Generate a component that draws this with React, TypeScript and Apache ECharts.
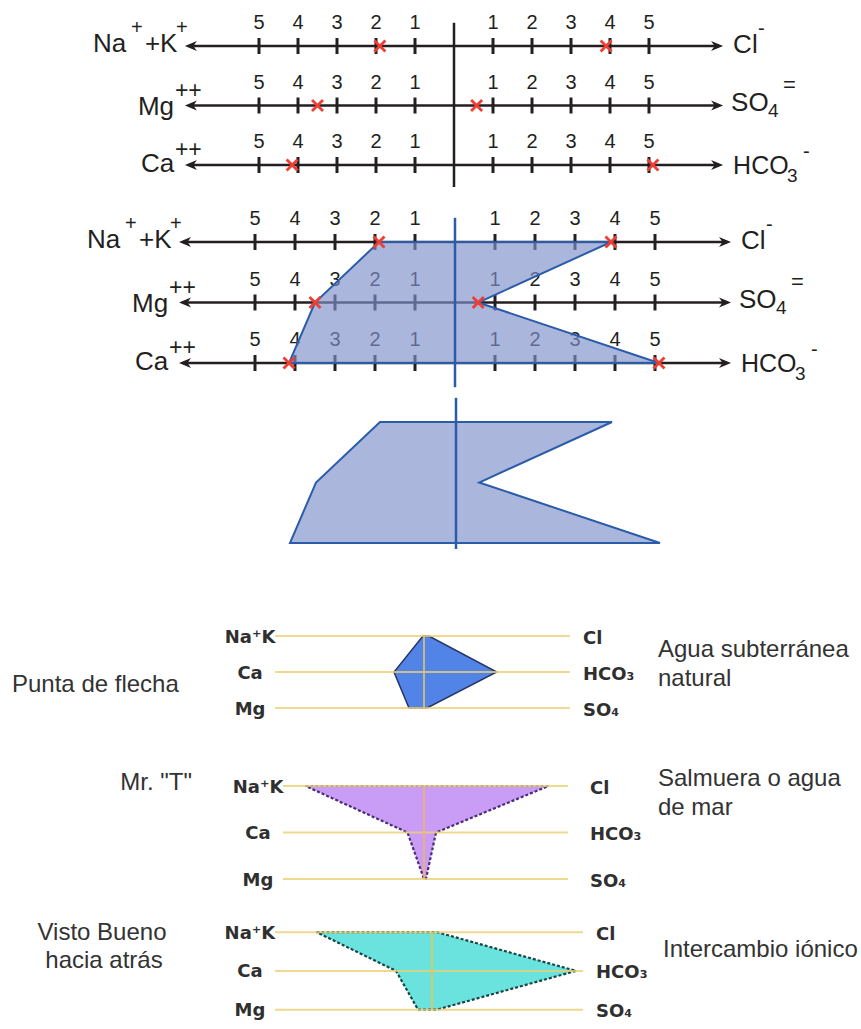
import React, { useEffect, useRef } from "react";
import * as echarts from "echarts";

// ---------------- data ----------------
const ionRows = [0, 1, 2];
// top diagrams (meq/L): left = cations (Na+K, Mg, Ca), right = anions (Cl, SO4, HCO3)
const cationValues = [1.9, 3.5, 4.15];
const anionValues = [3.9, 0.58, 5.1];
const tickValues = [1, 2, 3, 4, 5];
const tickLabels = ["1", "2", "3", "4", "5"];

// bottom Stiff patterns: rows Na+K / Ca / Mg (left) and Cl / HCO3 / SO4 (right)
const stiffCationLabels = ["Na⁺K", "Ca", "Mg"];
const stiffAnionLabels = ["Cl", "HCO₃", "SO₄"];
const arrowheadCations = [0.07, 2.0, 1.0];
const arrowheadAnions = [0.33, 4.85, 0.2];
const mrTCations = [7.9, 1.1, 0.0];
const mrTAnions = [8.3, 0.8, 0.13];
const checkCations = [7.7, 2.4, 0.93];
const checkAnions = [0.33, 9.6, 0.33];

const patternNames = [["Punta de flecha"], ['Mr. "T"'], ["Visto Bueno", "hacia atrás"]];
const waterTypes = [["Agua subterránea", "natural"], ["Salmuera o agua", "de mar"], ["Intercambio iónico"]];

// ---------------- styling ----------------
const FONT = '"Liberation Sans", Arial, sans-serif';
const BOLD_FONT = '"DejaVu Sans", Verdana, sans-serif';
const INK = "#231f20";
const RED = "#ee3f35";
const BLUE = "#2b5ca9";
const ARROW = 6.9;

type Piece = [string, number, number, number];
const leftIonPieces: Piece[][] = [
  [["Na", -92, -3, 26], ["+", -54, -19, 20], ["+K", -40, -3, 26], ["+", -9, -19, 20]],
  [["Mg", -47, 0, 26], ["++", -10, -16, 23]],
  [["Ca", -44, -2, 26], ["++", -10, -16, 23]],
];
const rightIonPieces: Piece[][] = [
  [["Cl", 10, -2, 26], ["-", 35, -18, 20]],
  [["SO", 8, -4, 26], ["4", 45, 5, 19], ["=", 60, -21, 22]],
  [["HCO", 10, 0, 25], ["3", 64, 10, 19], ["-", 80, -14, 20]],
];

const topGrids = [
  { left: 181, top: 16.25, width: 546, height: 178.5 },
  { left: 175, top: 211.75, width: 560, height: 181.5 },
  { left: 176, top: 391.75, width: 560, height: 181.5 },
];
const stiffGrids = [
  { left: 259, top: 618, width: 330, height: 108 },
  { left: 259, top: 762.75, width: 330, height: 139.5 },
  { left: 267, top: 912.75, width: 330, height: 121.5 },
];

function txt(text: string, x: number, y: number, size: number, o: any = {}) {
  return {
    type: "text",
    x,
    y,
    style: {
      text,
      fill: o.fill || INK,
      fontSize: size,
      fontFamily: o.family || FONT,
      fontWeight: o.weight || "normal",
      align: o.align || "left",
      verticalAlign: "middle",
    },
  };
}

const axisRender = (params: any, api: any) => {
  const r = api.value(1);
  const [lx, y] = api.coord([-ARROW, r]);
  const [rx] = api.coord([ARROW, r]);
  const ch: any[] = [];
  ch.push({ type: "line", shape: { x1: lx + 4, y1: y, x2: rx - 4, y2: y }, style: { stroke: INK, lineWidth: 2.4 } });
  ch.push({ type: "polygon", shape: { points: [[lx, y], [lx + 12, y - 5], [lx + 8.5, y], [lx + 12, y + 5]] }, style: { fill: INK } });
  ch.push({ type: "polygon", shape: { points: [[rx, y], [rx - 12, y - 5], [rx - 8.5, y], [rx - 12, y + 5]] }, style: { fill: INK } });
  tickValues.forEach((v, k) => {
    [-1, 1].forEach((s) => {
      const [x] = api.coord([s * v, r]);
      ch.push({ type: "line", shape: { x1: x, y1: y - 8, x2: x, y2: y + 8 }, style: { stroke: INK, lineWidth: 3 } });
      ch.push(txt(tickLabels[k], x, y - 24, 20, { align: "center" }));
    });
  });
  leftIonPieces[r].forEach(([t, dx, dy, fs]) => ch.push(txt(t, lx + dx, y + dy, fs)));
  rightIonPieces[r].forEach(([t, dx, dy, fs]) => ch.push(txt(t, rx + dx, y + dy, fs)));
  return { type: "group", children: ch };
};

const polygonRender = (params: any, api: any) => {
  const pts: number[][] = [];
  pts.push(api.coord([-cationValues[0], 0]));
  ionRows.forEach((r) => pts.push(api.coord([anionValues[r], r])));
  for (let r = ionRows.length - 1; r >= 1; r--) pts.push(api.coord([-cationValues[r], r]));
  return {
    type: "polygon",
    shape: { points: pts },
    style: { fill: "rgba(128,144,204,0.66)", stroke: BLUE, lineWidth: 2 },
  };
};

const markRender = (color: string, from: number, to: number, crosses: boolean) => (params: any, api: any) => {
  const ch: any[] = [];
  const [cx, ya] = api.coord([0, from]);
  const [, yb] = api.coord([0, to]);
  ch.push({ type: "line", shape: { x1: cx, y1: ya, x2: cx, y2: yb }, style: { stroke: color, lineWidth: 2.5 } });
  if (crosses) {
    ionRows.forEach((r) => {
      [-cationValues[r], anionValues[r]].forEach((v) => {
        const [x, y] = api.coord([v, r]);
        const d = 5.5;
        ch.push({ type: "line", shape: { x1: x - d, y1: y - d, x2: x + d, y2: y + d }, style: { stroke: RED, lineWidth: 2.8 } });
        ch.push({ type: "line", shape: { x1: x - d, y1: y + d, x2: x + d, y2: y - d }, style: { stroke: RED, lineWidth: 2.8 } });
      });
    });
  }
  return { type: "group", children: ch };
};

const stiffLooks = [
  { fill: "#5283e6", stroke: "#26366a", lw: 1.5, dash: null, from: -9.93, to: 9.73, gap: 13, vline: "#dcc27a" },
  { fill: "#c99cf5", stroke: "#4a2c7a", lw: 2.2, dash: [3, 2], from: -9.4, to: 9.6, gap: 22, vline: "#eeb46a" },
  { fill: "#6ae3df", stroke: "#174646", lw: 2.2, dash: [3, 2], from: -10.47, to: 10.07, gap: 13, vline: "#e6c25a" },
];

const stiffRender = (cats: number[], ans: number[], look: any) => (params: any, api: any) => {
  const ch: any[] = [];
  const pts: number[][] = [];
  pts.push(api.coord([-cats[0], 0]));
  ans.forEach((v, r) => pts.push(api.coord([v, r])));
  for (let r = cats.length - 1; r >= 1; r--) pts.push(api.coord([-cats[r], r]));
  ch.push({
    type: "polygon",
    shape: { points: pts },
    style: { fill: look.fill, stroke: look.stroke, lineWidth: look.lw, lineDash: look.dash },
  });
  ionRows.forEach((r) => {
    const [x1, y] = api.coord([look.from, r]);
    const [x2] = api.coord([look.to, r]);
    ch.push({ type: "line", shape: { x1, y1: y, x2, y2: y }, style: { stroke: "#ebcf72", lineWidth: 2, opacity: 0.8 } });
    ch.push(txt(stiffCationLabels[r], x1 - 25, y, 18, { align: "center", family: BOLD_FONT, weight: "bold", fill: "#2f2f2f" }));
    ch.push(txt(stiffAnionLabels[r], x2 + look.gap, y + 1, 18, { family: BOLD_FONT, weight: "bold", fill: "#2f2f2f" }));
  });
  const [cx, ya] = api.coord([0, 0]);
  const [, yb] = api.coord([0, 2]);
  ch.push({ type: "line", shape: { x1: cx, y1: ya, x2: cx, y2: yb }, style: { stroke: look.vline, lineWidth: 2, opacity: 0.85 } });
  return { type: "group", children: ch };
};

function titleText(text: string, x: number, y: number, align = "left") {
  return {
    type: "text",
    x,
    y,
    style: { text, fill: "#333333", fontSize: 24, fontFamily: FONT, align, verticalAlign: "middle" },
  };
}

export default function App() {
  const ref = useRef<HTMLDivElement>(null);
  useEffect(() => {
    if (!ref.current) return;
    const chart = echarts.init(ref.current, null, { renderer: "svg", width: 861, height: 1029 });
    const grids = [...topGrids, ...stiffGrids];
    const one = [[0, 0]];
    const option: any = {
      animation: false,
      backgroundColor: "#ffffff",
      grid: grids.map((g) => ({ ...g, show: false })),
      xAxis: grids.map((g, i) => ({ type: "value", gridIndex: i, min: i < 3 ? -7 : -11, max: i < 3 ? 7 : 11, show: false })),
      yAxis: grids.map((g, i) => ({ type: "value", gridIndex: i, min: -0.5, max: 2.5, inverse: true, show: false })),
      graphic: {
        elements: [
          titleText(patternNames[0][0], 12, 683),
          titleText(waterTypes[0][0], 658, 648),
          titleText(waterTypes[0][1], 658, 677),
          titleText(patternNames[1][0], 192, 781, "right"),
          titleText(waterTypes[1][0], 658, 777),
          titleText(waterTypes[1][1], 658, 806),
          titleText(patternNames[2][0], 102, 931, "center"),
          titleText(patternNames[2][1], 104, 959, "center"),
          titleText(waterTypes[2][0], 663, 948),
        ],
      },
      series: [
        { type: "custom", xAxisIndex: 0, yAxisIndex: 0, z: 1, silent: true, data: ionRows.map((r) => [0, r]), renderItem: axisRender },
        { type: "custom", xAxisIndex: 0, yAxisIndex: 0, z: 3, silent: true, data: one, renderItem: markRender(INK, -0.39, 2.37, true) },
        { type: "custom", xAxisIndex: 1, yAxisIndex: 1, z: 1, silent: true, data: ionRows.map((r) => [0, r]), renderItem: axisRender },
        { type: "custom", xAxisIndex: 1, yAxisIndex: 1, z: 2, silent: true, data: one, renderItem: polygonRender },
        { type: "custom", xAxisIndex: 1, yAxisIndex: 1, z: 3, silent: true, data: one, renderItem: markRender(BLUE, -0.4, 2.4, true) },
        { type: "custom", xAxisIndex: 2, yAxisIndex: 2, z: 2, silent: true, data: one, renderItem: polygonRender },
        { type: "custom", xAxisIndex: 2, yAxisIndex: 2, z: 3, silent: true, data: one, renderItem: markRender(BLUE, -0.4, 2.1, false) },
        { type: "custom", xAxisIndex: 3, yAxisIndex: 3, z: 2, silent: true, data: one, renderItem: stiffRender(arrowheadCations, arrowheadAnions, stiffLooks[0]) },
        { type: "custom", xAxisIndex: 4, yAxisIndex: 4, z: 2, silent: true, data: one, renderItem: stiffRender(mrTCations, mrTAnions, stiffLooks[1]) },
        { type: "custom", xAxisIndex: 5, yAxisIndex: 5, z: 2, silent: true, data: one, renderItem: stiffRender(checkCations, checkAnions, stiffLooks[2]) },
      ],
    };
    chart.setOption(option);
    return () => chart.dispose();
  }, []);
  return (
    <div
      ref={ref}
      style={{ position: "absolute", left: 0, top: 0, width: 861, height: 1029, background: "#ffffff" }}
    />
  );
}
